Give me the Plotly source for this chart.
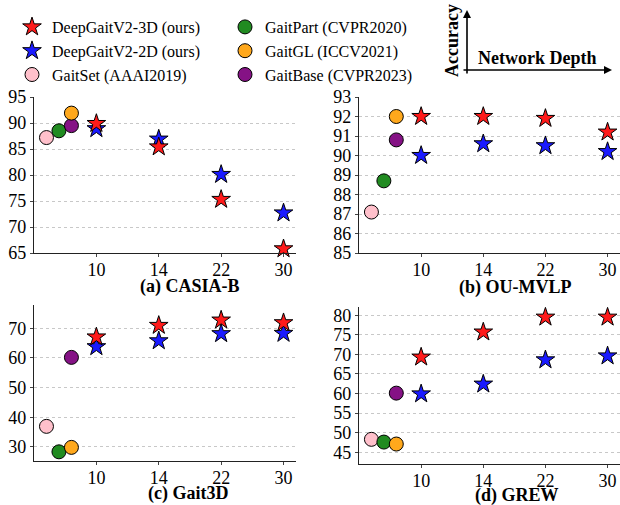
import plotly.graph_objects as go

# ---------------- data ----------------
depth_labels = ["10", "14", "22", "30"]
depth_pos = [1, 2, 3, 4]
baseline_pos = {"GaitSet (AAAI2019)": 0.2, "GaitPart (CVPR2020)": 0.4,
                "GaitGL (ICCV2021)": 0.6, "GaitBase (CVPR2023)": 0.6}

# CASIA-B
casia_3d = [89.9, 85.4, 75.3, 65.8]
casia_2d = [88.9, 86.9, 80.1, 72.7]
casia_base = {"GaitSet (AAAI2019)": 87.2, "GaitPart (CVPR2020)": 88.5,
              "GaitGL (ICCV2021)": 91.9, "GaitBase (CVPR2023)": 89.5}
# OU-MVLP
ou_3d = [92.0, 92.0, 91.9, 91.2]
ou_2d = [90.0, 90.6, 90.5, 90.2]
ou_base = {"GaitSet (AAAI2019)": 87.1, "GaitPart (CVPR2020)": 88.7,
           "GaitGL (ICCV2021)": 92.0, "GaitBase (CVPR2023)": 90.8}
# Gait3D
g3d_3d = [67.1, 71.0, 72.8, 71.9]
g3d_2d = [63.8, 65.8, 68.2, 68.3]
g3d_base = {"GaitSet (AAAI2019)": 36.9, "GaitPart (CVPR2020)": 28.3,
            "GaitGL (ICCV2021)": 29.8, "GaitBase (CVPR2023)": 60.2}
# GREW
grew_3d = [69.3, 75.7, 79.5, 79.5]
grew_2d = [59.9, 62.4, 68.6, 69.6]
grew_base = {"GaitSet (AAAI2019)": 48.3, "GaitPart (CVPR2020)": 47.6,
             "GaitGL (ICCV2021)": 47.1, "GaitBase (CVPR2023)": 60.1}

panel_titles = ["(a) CASIA-B", "(b) OU-MVLP", "(c) Gait3D", "(d) GREW"]
y_ranges = [[65, 95], [85, 93], [25.2, 77.9], [42, 82.1]]
y_ticks = [list(range(65, 96, 5)), list(range(85, 94, 1)),
           list(range(30, 71, 10)), list(range(45, 81, 5))]

colors = {"DeepGaitV2-3D (ours)": "#ff1a1a", "DeepGaitV2-2D (ours)": "#1a1aff",
          "GaitSet (AAAI2019)": "#ffc0cb", "GaitPart (CVPR2020)": "#218b21",
          "GaitGL (ICCV2021)": "#ffa81c", "GaitBase (CVPR2023)": "#851285"}
legend_rank = {"DeepGaitV2-3D (ours)": 1, "GaitPart (CVPR2020)": 2,
               "DeepGaitV2-2D (ours)": 3, "GaitGL (ICCV2021)": 4,
               "GaitSet (AAAI2019)": 5, "GaitBase (CVPR2023)": 6}

panels = [(casia_3d, casia_2d, casia_base), (ou_3d, ou_2d, ou_base),
          (g3d_3d, g3d_2d, g3d_base), (grew_3d, grew_2d, grew_base)]

# ---------------- layout geometry ----------------
W, H = 620, 505
x_domains = [[34 / W, 296 / W], [359 / W, 1.0], [34 / W, 296 / W], [359 / W, 1.0]]
y_domains = [[1 - 253 / H, 1 - 97 / H], [1 - 253 / H, 1 - 97 / H],
             [1 - 461 / H, 1 - 305 / H], [1 - 464 / H, 1 - 307 / H]]
title_pos = [(190, 286), (515, 287), (188, 493), (517, 495)]

FONT = "Liberation Serif, Times New Roman, serif"
fig = go.Figure()

for i, (s3d, s2d, base) in enumerate(panels):
    ax = "" if i == 0 else str(i + 1)
    xref, yref = "x" + ax, "y" + ax
    first = i == 0
    # baselines
    for name in ["GaitSet (AAAI2019)", "GaitPart (CVPR2020)", "GaitBase (CVPR2023)", "GaitGL (ICCV2021)"]:
        fig.add_trace(go.Scatter(
            x=[baseline_pos[name]], y=[base[name]], mode="markers", name=name,
            legendgroup=name, showlegend=first, legendrank=legend_rank[name],
            marker=dict(symbol="circle", size=14, color=colors[name],
                        line=dict(color="black", width=1)),
            xaxis=xref, yaxis=yref, cliponaxis=False))
    for name, vals in [("DeepGaitV2-2D (ours)", s2d), ("DeepGaitV2-3D (ours)", s3d)]:
        fig.add_trace(go.Scatter(
            x=depth_pos, y=vals, mode="markers", name=name,
            legendgroup=name, showlegend=first, legendrank=legend_rank[name],
            marker=dict(symbol="star", size=14, color=colors[name],
                        line=dict(color="black", width=1)),
            xaxis=xref, yaxis=yref, cliponaxis=False))

layout = dict(
    width=W, height=H, margin=dict(l=0, r=0, t=0, b=0, autoexpand=False),
    paper_bgcolor="white", plot_bgcolor="white",
    font=dict(family=FONT, size=18, color="black"),
    showlegend=True,
    legend=dict(orientation="h", x=12 / W, y=1 - 10 / H, xanchor="left", yanchor="top",
                entrywidth=168, entrywidthmode="pixels", traceorder="normal",
                font=dict(family=FONT, size=16, color="black"),
                bgcolor="rgba(0,0,0,0)", itemsizing="trace", tracegroupgap=0),
)
for i in range(4):
    ax = "" if i == 0 else str(i + 1)
    layout["xaxis" + ax] = dict(
        domain=x_domains[i], range=[0, 4.2], tickvals=depth_pos, ticktext=depth_labels,
        showgrid=False, zeroline=False, showline=True, linecolor="#222", linewidth=1.2,
        ticks="outside", ticklen=3, tickcolor="#444", tickfont=dict(size=18),
        ticklabelstandoff=-3,
        anchor="y" + ax, fixedrange=True, automargin=False)
    layout["yaxis" + ax] = dict(
        domain=y_domains[i], range=y_ranges[i], tickvals=y_ticks[i],
        showgrid=True, gridcolor="#c8c8c8", griddash="dot", gridwidth=1,
        zeroline=False, showline=True, linecolor="#222", linewidth=1.2,
        ticks="outside", ticklen=3, tickcolor="#444", tickfont=dict(size=18),
        anchor="x" + ax, fixedrange=True, automargin=False)
fig.update_layout(**layout)

# panel titles
for i, (tx, ty) in enumerate(title_pos):
    fig.add_annotation(text="<b>" + panel_titles[i] + "</b>", x=tx / W, y=1 - ty / H,
                       xref="paper", yref="paper", showarrow=False,
                       font=dict(family=FONT, size=18, color="black"),
                       xanchor="center", yanchor="middle")

# axis-meaning diagram
fig.add_annotation(x=467 / W, y=1 - 10 / H, xref="paper", yref="paper", ax=0, ay=65,
                   text="", showarrow=True, arrowhead=2, arrowsize=1, arrowwidth=1.6,
                   arrowcolor="black")
fig.add_annotation(x=612 / W, y=1 - 70 / H, xref="paper", yref="paper", ax=-150, ay=0,
                   text="", showarrow=True, arrowhead=2, arrowsize=1, arrowwidth=1.6,
                   arrowcolor="black")
fig.add_annotation(text="<b>Accuracy</b>", x=452 / W, y=1 - 41 / H, xref="paper", yref="paper",
                   showarrow=False, textangle=-90, font=dict(family=FONT, size=18),
                   xanchor="center", yanchor="middle")
fig.add_annotation(text="<b>Network Depth</b>", x=537 / W, y=1 - 58 / H, xref="paper", yref="paper",
                   showarrow=False, font=dict(family=FONT, size=18),
                   xanchor="center", yanchor="middle")

fig.write_html("out.html", config={"displayModeBar": False},
               post_script="document.body.style.margin='0';document.body.style.overflow='hidden';")
